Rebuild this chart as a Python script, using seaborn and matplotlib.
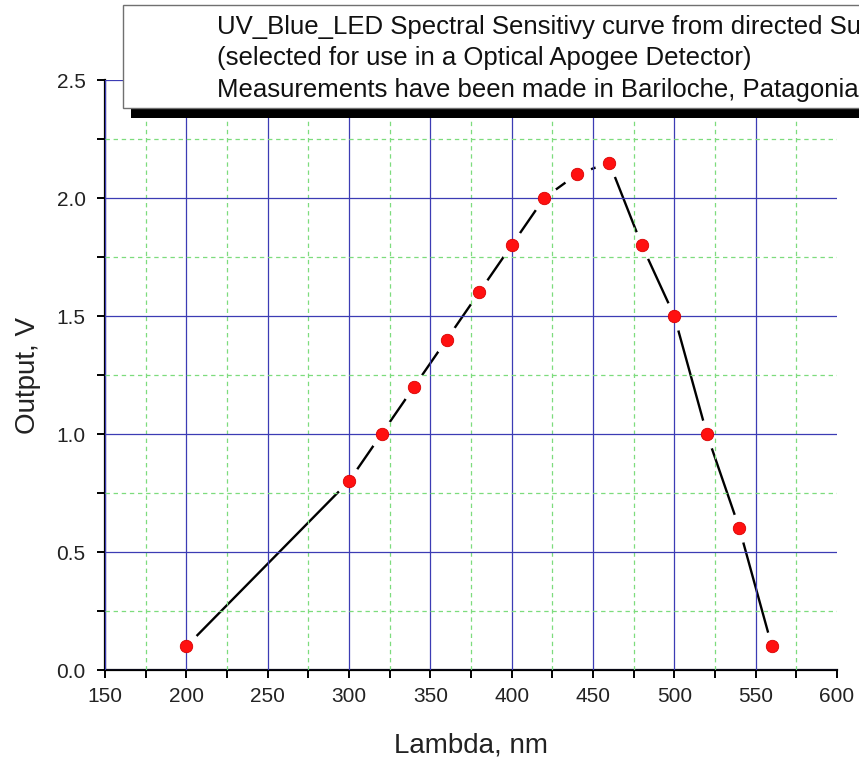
import numpy as np
import pandas as pd
import seaborn as sns
import matplotlib.pyplot as plt
from matplotlib.patches import Rectangle
from matplotlib.ticker import MultipleLocator

# data
wavelength = [200, 300, 320, 340, 360, 380, 400, 420, 440, 460, 480, 500, 520, 540, 560]
output_v = [0.10, 0.80, 1.00, 1.20, 1.40, 1.60, 1.80, 2.00, 2.10, 2.15, 1.80, 1.50, 1.00, 0.60, 0.10]

title_lines = [
    "UV_Blue_LED Spectral Sensitivy curve from directed Sun",
    "(selected for use in a Optical Apogee Detector)",
    "Measurements have been made in Bariloche, Patagonia,",
]

df = pd.DataFrame({"Lambda": wavelength, "Output": output_v})

sns.set_theme(style="white")
plt.rcParams["font.family"] = ["Liberation Sans", "DejaVu Sans"]

fig = plt.figure(figsize=(8.59, 7.60), dpi=100)
ax = fig.add_axes([105 / 859, 90 / 760, 732 / 859, 590 / 760])

# curve, then white halos (gap to symbol), then red symbols
sns.lineplot(data=df, x="Lambda", y="Output", ax=ax, color="black", lw=1.7, zorder=2)
sns.scatterplot(data=df, x="Lambda", y="Output", ax=ax, color="white", s=440,
                linewidth=0, zorder=2.3, legend=False)
sns.scatterplot(data=df, x="Lambda", y="Output", ax=ax, color="#ff1010", s=80,
                edgecolor="#d80000", linewidth=0.6, zorder=3, legend=False)

ax.set_xlim(150, 600)
ax.set_ylim(0, 2.5)
ax.xaxis.set_major_locator(MultipleLocator(50))
ax.xaxis.set_minor_locator(MultipleLocator(25))
ax.yaxis.set_major_locator(MultipleLocator(0.5))
ax.yaxis.set_minor_locator(MultipleLocator(0.25))
ax.yaxis.set_major_formatter(plt.FormatStrFormatter("%.1f"))

ax.set_axisbelow(False)
ax.grid(which="major", color="#3c3cb4", lw=0.9, ls="-")
ax.grid(which="minor", color="#7ddc7d", lw=0.9, ls=(0, (3.5, 3)))

# no grid line on the right edge
for tick, loc in zip(ax.xaxis.get_major_ticks(), ax.get_xticks()):
    if loc >= 600:
        tick.gridline.set_visible(False)

for s in ["top", "right"]:
    ax.spines[s].set_visible(False)
for s in ["left", "bottom"]:
    ax.spines[s].set_color("black")
    ax.spines[s].set_linewidth(1.6)

ax.tick_params(which="both", direction="out", length=6, width=1.4, color="black",
               left=True, bottom=True, labelsize=15, labelcolor="#222222")
ax.tick_params(axis="x", which="major", pad=6)
ax.tick_params(axis="y", which="major", pad=8)

ax.set_xlabel("Lambda, nm", fontsize=20, color="#222222")
ax.set_ylabel("Output, V", fontsize=20, color="#222222")
ax.xaxis.set_label_coords(0.5, (670 - 745) / 590)
ax.yaxis.set_label_coords((28 - 105) / 732, 0.5)
ax.xaxis.label.set_va("center")
ax.yaxis.label.set_va("center")

# title box with drop shadow, drawn over the axes
fig.add_artist(Rectangle((131 / 859, 1 - 118 / 760), 1.0, 30 / 760,
                         transform=fig.transFigure, facecolor="black",
                         edgecolor="none", zorder=4))
fig.add_artist(Rectangle((123 / 859, 1 - 108 / 760), 1.0, 103 / 760,
                         transform=fig.transFigure, facecolor="white",
                         edgecolor="#707070", lw=1.0, zorder=5))
for i, line in enumerate(title_lines):
    fig.text(217 / 859, 1 - (27 + 31.5 * i) / 760, line, fontsize=18.5,
             color="#111111", va="center", ha="left", zorder=6)

fig.savefig("out.png", dpi=100)
